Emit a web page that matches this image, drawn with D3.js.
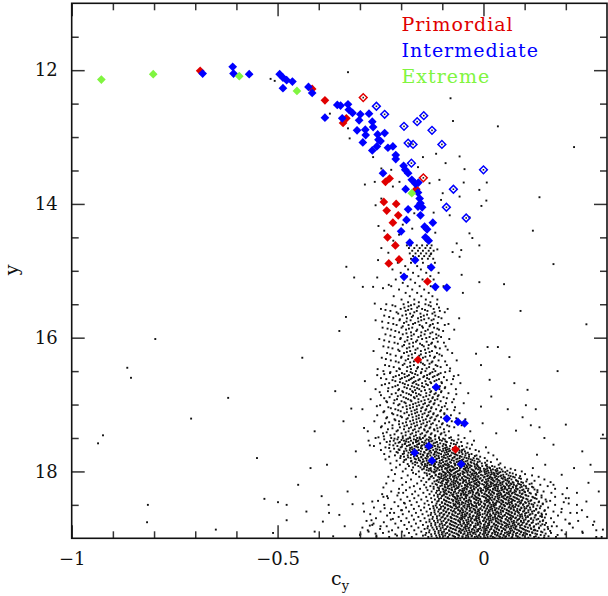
<!DOCTYPE html>
<html><head><meta charset="utf-8">
<script src="https://cdn.jsdelivr.net/npm/d3@7"></script>
<style>body{margin:0;background:#fff}svg{display:block}</style>
</head><body>
<svg id="chart" width="608" height="596"></svg>
<script>
// ---- axis definitions ----
const xDomain = [-1, 0.3];
const yDomain = [11, 19];
const xMajorTicks = [-1, -0.5, 0];
const xTickLabels = ["\u22121", "\u22120.5", "0"];
const xMinorTicks = [-0.9, -0.8, -0.7, -0.6, -0.4, -0.3, -0.2, -0.1, 0.1, 0.2];
const yMajorTicks = [12, 14, 16, 18];
const yTickLabels = ["12", "14", "16", "18"];
const yMinorTicks = [11.5, 12.5, 13, 13.5, 14.5, 15, 15.5, 16.5, 17, 17.5, 18.5];
const legendLabels = ["Primordial", "Intermediate", "Extreme"];

// ---- coloured populations [c_y, y] ----
const primordialFilled = [[-0.688,12.01],[-0.416,12.28],[-0.385,12.45],[-0.333,12.72],[-0.341,12.79],[-0.238,13.67],[-0.228,13.62],[-0.163,13.78],[-0.242,13.97],[-0.212,14.0],[-0.235,14.1],[-0.207,14.17],[-0.22,14.28],[-0.233,14.5],[-0.214,14.62],[-0.205,14.83],[-0.23,14.89],[-0.136,15.16],[-0.159,16.33],[-0.068,17.67]];
const primordialOpen = [[-0.292,12.41],[-0.146,13.61]];
const intermediateFilled = [[-0.682,12.05],[-0.609,11.95],[-0.607,12.05],[-0.569,12.06],[-0.495,12.06],[-0.487,12.11],[-0.478,12.15],[-0.464,12.17],[-0.487,12.27],[-0.425,12.25],[-0.416,12.34],[-0.385,12.71],[-0.355,12.52],[-0.347,12.53],[-0.329,12.51],[-0.327,12.59],[-0.318,12.64],[-0.343,12.72],[-0.299,12.66],[-0.278,12.65],[-0.302,12.75],[-0.27,12.77],[-0.268,12.85],[-0.307,12.9],[-0.287,12.89],[-0.286,12.97],[-0.257,12.96],[-0.24,12.94],[-0.293,13.08],[-0.255,13.04],[-0.25,13.06],[-0.259,13.14],[-0.27,13.2],[-0.232,13.16],[-0.22,13.14],[-0.213,13.27],[-0.213,13.33],[-0.194,13.43],[-0.19,13.49],[-0.183,13.54],[-0.244,13.54],[-0.174,13.64],[-0.165,13.7],[-0.158,13.68],[-0.189,13.78],[-0.159,13.83],[-0.155,13.92],[-0.153,13.99],[-0.159,14.04],[-0.149,14.05],[-0.183,14.08],[-0.153,14.17],[-0.187,14.24],[-0.123,14.28],[-0.143,14.34],[-0.137,14.38],[-0.2,14.41],[-0.141,14.5],[-0.133,14.55],[-0.179,14.58],[-0.166,14.84],[-0.127,14.95],[-0.193,15.09],[-0.117,15.24],[-0.089,15.25],[-0.115,16.74],[-0.089,17.21],[-0.062,17.26],[-0.046,17.28],[-0.133,17.62],[-0.167,17.72],[-0.125,17.84],[-0.054,17.89]];
const intermediateOpen = [[-0.26,12.54],[-0.24,12.66],[-0.193,12.84],[-0.161,12.77],[-0.145,12.68],[-0.125,12.9],[-0.183,13.09],[-0.171,13.11],[-0.101,13.11],[-0.175,13.39],[0.0,13.49],[-0.073,13.78],[-0.09,14.05],[-0.042,14.21]];
const extremeFilled = [[-0.928,12.14],[-0.802,12.06],[-0.593,12.09],[-0.453,12.31],[-0.174,13.84]];

// ---- background stars: rows [y, c_y values...] ----
const bgRows = [
[14.62,-.176,-.162,-.149,-.137,-.126],[14.66,-.181,-.168,-.155,-.141,-.129],[14.70,-.173,-.159,-.147,-.133,-.121],[14.74,-.179,-.165,-.152,-.139,-.127],[14.78,-.171,-.157,-.144,-.131],[14.82,-.176,-.162,-.149,-.135,-.122],
[14.88,-.208,-.176,-.147,-.118],[14.93,-.19,-.161,-.134],[14.98,-.221,-.183,-.152,-.126],[15.03,-.201,-.171,-.139,-.109],[15.08,-.186,-.158,-.129],[15.13,-.213,-.177,-.148,-.121],[15.18,-.196,-.166,-.137],[15.23,-.224,-.184,-.155,-.128,-.097],[15.28,-.205,-.173,-.144,-.116],[15.33,-.189,-.161,-.133],[15.38,-.218,-.179,-.151,-.124],[15.43,-.199,-.168,-.14,-.112],[15.47,-.183,-.157,-.129],
[15.50,-.236,-.194,-.168,-.141,-.113],[15.53,-.214,-.182,-.157,-.128],[15.57,-.249,-.201,-.175,-.149,-.121,-.087],[15.60,-.226,-.189,-.162,-.136,-.106],[15.64,-.207,-.178,-.153,-.124],[15.67,-.241,-.197,-.171,-.145,-.117],[15.71,-.219,-.186,-.159,-.133,-.102,-.059],[15.74,-.262,-.204,-.177,-.151,-.126],[15.78,-.231,-.193,-.166,-.139,-.111],[15.81,-.211,-.182,-.155,-.129,-.094],[15.85,-.245,-.199,-.173,-.147,-.12],[15.88,-.224,-.188,-.161,-.135,-.108,-.071],[15.92,-.205,-.176,-.151,-.124],[15.95,-.238,-.196,-.169,-.143,-.115],[15.99,-.216,-.184,-.158,-.131,-.103],[16.02,-.253,-.202,-.175,-.149,-.122,-.083],[16.06,-.229,-.191,-.164,-.138,-.111],[16.09,-.208,-.18,-.154,-.127],[16.13,-.243,-.197,-.171,-.145,-.118,-.092],[16.16,-.221,-.186,-.16,-.134,-.106],[16.20,-.267,-.204,-.178,-.152,-.125],[16.23,-.234,-.193,-.166,-.14,-.113,-.076],[16.27,-.213,-.182,-.156,-.13,-.101],[16.30,-.247,-.2,-.173,-.147,-.12],[16.34,-.225,-.189,-.163,-.136,-.109,-.065],[16.37,-.206,-.178,-.152,-.126],[16.41,-.239,-.196,-.169,-.143,-.116,-.089],[16.44,-.218,-.185,-.159,-.132,-.104],[16.47,-.257,-.203,-.176,-.149,-.121],
[16.50,-.243,-.211,-.186,-.164,-.141,-.117,-.082],[16.53,-.227,-.198,-.173,-.152,-.129,-.104],[16.56,-.258,-.205,-.181,-.16,-.137,-.112,-.061],[16.59,-.219,-.191,-.169,-.146,-.123,-.096],[16.62,-.236,-.202,-.177,-.155,-.132,-.108,-.074],[16.65,-.288,-.214,-.187,-.165,-.141,-.119],[16.68,-.229,-.196,-.172,-.149,-.127,-.101,-.056],[16.71,-.247,-.208,-.183,-.158,-.135,-.114],[16.74,-.221,-.192,-.168,-.144,-.122,-.093],[16.77,-.262,-.205,-.178,-.156,-.131,-.107,-.067],[16.80,-.232,-.197,-.173,-.151,-.127,-.102],[16.83,-.213,-.187,-.164,-.139,-.116,-.085,-.037],[16.86,-.249,-.201,-.176,-.153,-.131,-.109],[16.89,-.228,-.194,-.169,-.146,-.123,-.097],[16.92,-.274,-.21,-.183,-.158,-.134,-.112,-.072],[16.95,-.236,-.199,-.175,-.151,-.128,-.104],[16.98,-.218,-.189,-.165,-.142,-.119,-.091,-.048],[17.01,-.251,-.207,-.179,-.156,-.133,-.109],[17.04,-.231,-.196,-.171,-.148,-.126,-.101,-.069],[17.07,-.294,-.214,-.186,-.162,-.139,-.115,-.088],[17.10,-.241,-.201,-.175,-.152,-.129,-.105],[17.13,-.222,-.192,-.166,-.143,-.121,-.095,-.058],[17.16,-.258,-.209,-.181,-.157,-.134,-.111,-.079],[17.19,-.234,-.198,-.172,-.149,-.126,-.103],[17.22,-.216,-.187,-.163,-.14,-.117,-.093,-.044],[17.25,-.265,-.205,-.178,-.154,-.131,-.108,-.077],[17.28,-.239,-.196,-.169,-.146,-.123,-.099],[17.31,-.221,-.186,-.161,-.138,-.114,-.088,-.053],[17.34,-.249,-.203,-.176,-.152,-.129,-.105,-.071],[17.37,-.232,-.193,-.167,-.144,-.12,-.096],[17.40,-.281,-.211,-.182,-.158,-.135,-.111,-.084,-.032],[17.43,-.244,-.199,-.173,-.149,-.126,-.102],[17.46,-.226,-.189,-.164,-.141,-.117,-.092,-.061],[17.49,-.255,-.207,-.179,-.155,-.132,-.108,-.079],
[17.50,-.262,-.224,-.196,-.178,-.161,-.147,-.129,-.108,-.083,-.046],[17.52,-.241,-.209,-.187,-.169,-.152,-.138,-.117,-.094,-.061],[17.54,-.279,-.218,-.193,-.176,-.158,-.141,-.124,-.101,-.072,-.023],[17.56,-.235,-.203,-.182,-.164,-.149,-.132,-.113,-.089,-.054],[17.58,-.251,-.214,-.19,-.171,-.156,-.139,-.121,-.105,-.079,-.039],[17.60,-.228,-.197,-.178,-.161,-.144,-.128,-.111,-.092,-.067,-.028],[17.62,-.266,-.209,-.186,-.167,-.151,-.135,-.118,-.099,-.081,-.052],[17.64,-.238,-.201,-.174,-.159,-.141,-.124,-.107,-.089,-.07,-.041,.006],[17.66,-.217,-.189,-.168,-.149,-.133,-.116,-.098,-.083,-.061,-.033],[17.68,-.249,-.204,-.179,-.157,-.139,-.122,-.106,-.091,-.073,-.052,-.019],[17.70,-.226,-.193,-.171,-.152,-.131,-.115,-.101,-.084,-.066,-.045,-.011],[17.72,-.208,-.182,-.161,-.143,-.127,-.112,-.094,-.077,-.059,-.038,.012],[17.74,-.241,-.196,-.172,-.153,-.136,-.119,-.103,-.086,-.069,-.051,-.029],[17.76,-.215,-.184,-.163,-.146,-.129,-.114,-.096,-.079,-.063,-.044,-.017,.024],[17.78,-.229,-.193,-.169,-.151,-.135,-.118,-.101,-.087,-.07,-.053,-.035,-.008],[17.80,-.202,-.177,-.158,-.141,-.123,-.108,-.092,-.075,-.058,-.041,-.024,.003],[17.82,-.238,-.188,-.164,-.147,-.131,-.115,-.099,-.083,-.066,-.049,-.031,-.012,.033],[17.84,-.211,-.175,-.154,-.138,-.122,-.106,-.089,-.072,-.057,-.039,-.022,.009],[17.86,-.194,-.166,-.148,-.131,-.114,-.098,-.081,-.065,-.048,-.031,-.014,.018],[17.88,-.226,-.172,-.151,-.136,-.119,-.103,-.087,-.071,-.054,-.038,-.023,-.004,.041],
[17.90,-.203,-.166,-.149,-.131,-.127,-.109,-.091,-.084,-.063,-.052,-.036,-.021,.008,.037],[17.92,-.181,-.158,-.142,-.12,-.104,-.097,-.078,-.059,-.047,-.029,-.014,-.003,.021],[17.94,-.212,-.171,-.153,-.137,-.116,-.101,-.086,-.073,-.055,-.041,-.033,-.011,.014,.052],[17.96,-.189,-.145,-.132,-.112,-.093,-.089,-.069,-.048,-.037,-.019,.001,.009,.033,.066],[17.98,-.223,-.174,-.138,-.128,-.107,-.082,-.075,-.058,-.043,-.026,-.008,.018,.029,.077],[18.00,-.196,-.157,-.126,-.117,-.099,-.078,-.064,-.051,-.041,-.022,-.005,.007,.031,.047,.093],[18.02,-.171,-.143,-.119,-.094,-.083,-.069,-.046,-.039,-.018,-.011,.013,.024,.038,.064],[18.04,-.215,-.164,-.131,-.108,-.102,-.081,-.062,-.05,-.029,-.016,.004,.02,.035,.056,.101],[18.06,-.184,-.137,-.116,-.097,-.087,-.068,-.057,-.034,-.024,-.002,.011,.027,.043,.061,.118],[18.08,-.231,-.156,-.128,-.11,-.091,-.074,-.061,-.044,-.031,-.013,.003,.016,.036,.049,.072,.134],[18.10,-.199,-.146,-.121,-.103,-.082,-.071,-.052,-.038,-.019,-.007,.014,.022,.044,.063,.087],[18.12,-.176,-.133,-.107,-.093,-.079,-.058,-.049,-.026,-.015,.006,.019,.031,.053,.068,.106,.148],[18.14,-.219,-.151,-.114,-.098,-.085,-.066,-.047,-.035,-.021,-.004,.012,.025,.039,.058,.081,.124],[18.16,-.188,-.139,-.109,-.087,-.073,-.063,-.042,-.029,-.011,.003,.017,.034,.046,.071,.092,.163],[18.18,-.236,-.161,-.124,-.1,-.08,-.069,-.056,-.037,-.022,-.009,.01,.023,.041,.055,.066,.084,.117],[18.20,-.197,-.144,-.113,-.094,-.078,-.059,-.045,-.033,-.016,.001,.008,.028,.037,.057,.074,.091,.138],[18.22,-.169,-.129,-.105,-.086,-.072,-.053,-.04,-.024,-.014,.007,.019,.031,.049,.061,.079,.103,.156],[18.24,-.243,-.179,-.139,-.111,-.092,-.077,-.064,-.044,-.031,-.018,.002,.012,.027,.045,.053,.072,.089,.121],[18.26,-.205,-.154,-.121,-.099,-.083,-.067,-.051,-.041,-.023,-.006,.006,.023,.035,.052,.067,.083,.109,.174],[18.28,-.188,-.136,-.108,-.091,-.076,-.057,-.047,-.028,-.013,-.001,.016,.029,.044,.058,.076,.094,.131],[18.30,-.224,-.166,-.126,-.097,-.085,-.069,-.05,-.036,-.027,-.007,.005,.021,.036,.049,.065,.079,.099,.146],[18.32,-.195,-.146,-.115,-.095,-.079,-.061,-.049,-.032,-.016,-.004,.013,.025,.041,.056,.071,.088,.112,.165],[18.34,-.246,-.173,-.131,-.106,-.089,-.073,-.054,-.045,-.026,-.011,.002,.018,.033,.043,.062,.077,.093,.127,.192],[18.36,-.209,-.158,-.12,-.099,-.082,-.064,-.055,-.039,-.021,-.01,.009,.022,.038,.052,.066,.084,.104,.141],[18.38,-.185,-.139,-.111,-.092,-.071,-.063,-.043,-.029,-.019,.001,.014,.029,.045,.059,.073,.091,.119,.174],[18.40,-.232,-.168,-.127,-.103,-.087,-.068,-.057,-.042,-.024,-.013,.006,.016,.035,.049,.063,.08,.097,.125,.207],[18.42,-.201,-.151,-.118,-.096,-.077,-.066,-.047,-.034,-.018,-.008,.011,.026,.037,.055,.07,.086,.107,.151],[18.44,-.256,-.179,-.136,-.109,-.091,-.074,-.061,-.041,-.031,-.012,.003,.013,.032,.046,.061,.076,.092,.114,.162],[18.46,-.216,-.162,-.125,-.101,-.084,-.065,-.052,-.037,-.022,-.005,.008,.023,.039,.048,.067,.083,.101,.134,.195],[18.48,-.191,-.143,-.114,-.094,-.073,-.062,-.044,-.03,-.017,.001,.015,.028,.043,.058,.069,.089,.111,.144],[18.50,-.241,-.175,-.133,-.106,-.088,-.071,-.058,-.039,-.028,-.011,.004,.019,.03,.049,.064,.079,.096,.121,.174,.227],[18.52,-.207,-.157,-.122,-.098,-.081,-.067,-.049,-.035,-.023,-.004,.01,.024,.041,.052,.07,.085,.106,.139],[18.54,-.266,-.188,-.144,-.113,-.093,-.076,-.063,-.046,-.029,-.017,.001,.016,.027,.046,.061,.073,.092,.113,.157],[18.56,-.224,-.169,-.13,-.104,-.085,-.07,-.053,-.041,-.024,-.008,.007,.021,.037,.051,.066,.082,.1,.128,.19],[18.58,-.198,-.152,-.119,-.097,-.079,-.061,-.05,-.032,-.02,-.003,.013,.028,.042,.057,.074,.089,.109,.149,.239],[18.60,-.25,-.181,-.138,-.11,-.09,-.075,-.057,-.044,-.027,-.014,.004,.015,.034,.048,.063,.078,.096,.118,.17],[18.62,-.217,-.164,-.127,-.102,-.083,-.068,-.052,-.039,-.02,-.009,.01,.024,.036,.055,.069,.086,.104,.133,.211],[18.64,-.275,-.196,-.148,-.117,-.095,-.076,-.062,-.045,-.033,-.015,-.002,.016,.03,.043,.061,.076,.093,.114,.152],[18.66,-.234,-.174,-.134,-.107,-.087,-.071,-.054,-.042,-.024,-.011,.007,.019,.037,.051,.067,.083,.101,.126,.181],[18.68,-.206,-.158,-.123,-.099,-.08,-.063,-.05,-.033,-.018,-.003,.012,.028,.04,.057,.072,.089,.108,.142,.252],[18.70,-.261,-.187,-.143,-.113,-.092,-.077,-.058,-.046,-.028,-.013,.002,.017,.033,.045,.062,.077,.095,.116,.164],[18.72,-.225,-.169,-.131,-.105,-.085,-.067,-.055,-.037,-.022,-.01,.008,.023,.036,.054,.066,.084,.102,.129,.199],[18.74,-.284,-.2,-.153,-.12,-.097,-.079,-.061,-.049,-.031,-.016,-.001,.014,.03,.042,.059,.074,.091,.11,.144,.23],[18.76,-.242,-.181,-.139,-.111,-.089,-.073,-.057,-.04,-.027,-.009,.005,.02,.035,.05,.063,.08,.098,.12,.171],[18.78,-.214,-.164,-.127,-.101,-.082,-.066,-.049,-.036,-.019,-.006,.011,.026,.039,.056,.071,.086,.105,.133,.208],[18.80,-.27,-.192,-.147,-.117,-.094,-.077,-.061,-.044,-.031,-.014,.001,.014,.031,.046,.059,.076,.093,.112,.149,.266],[18.82,-.235,-.175,-.135,-.107,-.087,-.07,-.053,-.04,-.023,-.008,.007,.022,.035,.052,.067,.08,.1,.123,.178],[18.84,-.294,-.207,-.158,-.124,-.099,-.081,-.065,-.047,-.034,-.019,-.002,.011,.028,.043,.056,.073,.089,.108,.135,.217],[18.86,-.251,-.186,-.143,-.113,-.091,-.074,-.056,-.043,-.026,-.011,.004,.019,.032,.049,.064,.077,.096,.116,.157],[18.88,-.222,-.168,-.131,-.104,-.084,-.067,-.052,-.035,-.022,-.005,.008,.025,.038,.053,.07,.085,.103,.126,.19,.274],[18.90,-.279,-.198,-.151,-.118,-.096,-.078,-.06,-.046,-.029,-.016,.001,.014,.031,.044,.061,.074,.092,.111,.14],[18.92,-.244,-.181,-.139,-.109,-.088,-.071,-.055,-.038,-.025,-.008,.005,.022,.035,.052,.065,.082,.098,.119,.164,.241],[18.94,-.299,-.214,-.163,-.127,-.101,-.082,-.063,-.049,-.032,-.019,-.002,.011,.028,.041,.058,.071,.088,.106,.13,.199],[18.96,-.26,-.192,-.147,-.115,-.093,-.075,-.059,-.042,-.028,-.011,.002,.019,.032,.049,.062,.079,.095,.114,.148],[18.98,-.229,-.174,-.134,-.106,-.086,-.069,-.051,-.037,-.021,-.007,.01,.023,.04,.053,.07,.083,.101,.123,.176,.287]
];
// second pass of rows (in-between magnitudes) for the giant branch
const bgBandRows = [
[15.515,-.221,-.176,-.133],[15.55,-.192,-.161,-.108],[15.585,-.238,-.183,-.142],[15.62,-.211,-.168,-.119,-.094],[15.655,-.188,-.137],[15.69,-.229,-.174,-.152,-.109],[15.725,-.203,-.144,-.121],[15.76,-.246,-.187,-.158],[15.795,-.219,-.171,-.123,-.085],[15.83,-.196,-.149,-.131],[15.865,-.233,-.181,-.112],[15.90,-.214,-.163,-.141,-.098],[15.935,-.187,-.129],[15.97,-.226,-.175,-.152,-.109],[16.005,-.201,-.139,-.114],[16.04,-.241,-.185,-.161],[16.075,-.216,-.171,-.125,-.096],[16.11,-.193,-.149,-.133],[16.145,-.231,-.18,-.116],[16.18,-.207,-.165,-.142,-.087],[16.215,-.186,-.131],[16.25,-.226,-.174,-.152,-.107],[16.285,-.199,-.141,-.118],[16.32,-.237,-.183,-.159],[16.355,-.213,-.169,-.124,-.093],[16.39,-.192,-.147,-.131],[16.425,-.229,-.178,-.112],[16.46,-.205,-.161,-.138,-.081],
[16.515,-.226,-.177,-.151,-.124,-.093],[16.545,-.241,-.192,-.166,-.131,-.109],[16.575,-.213,-.185,-.144,-.119,-.072],[16.605,-.249,-.198,-.174,-.137],[16.635,-.221,-.181,-.158,-.114,-.089],[16.665,-.203,-.169,-.129,-.102],[16.695,-.239,-.191,-.163,-.139,-.078],[16.725,-.214,-.174,-.149,-.106],[16.755,-.231,-.186,-.161,-.119,-.094],[16.785,-.207,-.166,-.142,-.116],[16.815,-.252,-.195,-.171,-.129,-.103],[16.845,-.223,-.181,-.157,-.119,-.066],[16.875,-.208,-.162,-.139,-.111],[16.905,-.241,-.188,-.167,-.124,-.089],[16.935,-.216,-.177,-.143,-.118],[16.965,-.234,-.192,-.158,-.131,-.076],[16.995,-.204,-.171,-.146,-.121],[17.025,-.259,-.187,-.162,-.137,-.094],[17.055,-.225,-.178,-.151,-.127],[17.085,-.207,-.167,-.141,-.103,-.071],[17.115,-.243,-.186,-.161,-.133],[17.145,-.219,-.174,-.148,-.122,-.095],[17.175,-.201,-.163,-.137,-.114],[17.205,-.236,-.184,-.157,-.129,-.066],[17.235,-.214,-.171,-.146,-.119,-.092],[17.265,-.229,-.188,-.162,-.137],[17.295,-.205,-.175,-.151,-.127,-.101],[17.325,-.247,-.192,-.166,-.141,-.083],[17.355,-.221,-.181,-.156,-.131,-.112],[17.385,-.208,-.171,-.143,-.119],[17.415,-.235,-.189,-.164,-.138,-.095],[17.445,-.216,-.177,-.153,-.128,-.104],[17.475,-.242,-.196,-.169,-.143,-.118],
[17.51,-.216,-.183,-.155,-.128,-.098],[17.53,-.199,-.164,-.133,-.106,-.077],[17.55,-.227,-.188,-.161,-.127,-.092],[17.57,-.206,-.171,-.144,-.117,-.064],[17.59,-.191,-.157,-.133,-.097,-.072],[17.61,-.219,-.181,-.149,-.123,-.091],[17.63,-.198,-.163,-.138,-.111,-.059],[17.65,-.229,-.178,-.152,-.128,-.093,-.074],[17.67,-.206,-.173,-.137,-.112,-.087,-.048],[17.69,-.187,-.162,-.129,-.097,-.081,-.058],[17.71,-.211,-.176,-.144,-.118,-.089,-.053],[17.73,-.193,-.158,-.133,-.108,-.073,-.043],[17.75,-.176,-.147,-.121,-.091,-.066,-.035],[17.77,-.201,-.161,-.137,-.109,-.082,-.057,-.021],[17.79,-.183,-.151,-.126,-.096,-.071,-.046],[17.81,-.167,-.138,-.113,-.085,-.063,-.036,-.016],[17.83,-.192,-.157,-.129,-.101,-.077,-.052,-.027],[17.85,-.176,-.145,-.118,-.092,-.061,-.043,-.009],[17.87,-.161,-.134,-.107,-.079,-.058,-.029,.004],[17.89,-.184,-.142,-.118,-.094,-.069,-.045,-.016]
];
// second pass of rows for the dense turn-off / main-sequence core
const bgCoreRows = [
[17.91,-.137,-.121,-.098,-.087,-.069,-.041,-.032,-.015,.006],[17.93,-.144,-.118,-.107,-.083,-.076,-.054,-.039,-.021,.009,.027],[17.95,-.128,-.111,-.092,-.064,-.057,-.044,-.017,-.008,.016,.039],[17.97,-.149,-.119,-.101,-.081,-.072,-.046,-.029,-.013,.005,.023,.044],[17.99,-.133,-.114,-.088,-.079,-.061,-.037,-.024,.002,.011,.034,.058],[18.01,-.121,-.097,-.086,-.067,-.049,-.032,-.009,.003,.019,.041,.053],[18.03,-.138,-.106,-.091,-.072,-.056,-.026,-.021,.008,.027,.033,.071],[18.05,-.116,-.093,-.077,-.059,-.038,-.028,-.006,.017,.026,.048,.079],[18.07,-.125,-.102,-.081,-.071,-.047,-.019,-.012,.009,.031,.041,.066,.089],[18.09,-.107,-.095,-.066,-.052,-.041,-.023,.001,.019,.028,.052,.076],[18.11,-.131,-.098,-.087,-.064,-.034,-.027,-.009,.011,.033,.047,.059,.091],[18.13,-.112,-.089,-.072,-.056,-.043,-.018,-.002,.023,.036,.054,.079],[18.15,-.119,-.101,-.077,-.068,-.049,-.024,-.013,.008,.027,.049,.062,.084,.104],[18.17,-.104,-.091,-.062,-.05,-.033,-.017,.006,.019,.041,.061,.073,.096],[18.19,-.116,-.089,-.073,-.058,-.039,-.02,-.003,.018,.032,.046,.068,.087,.112],[18.21,-.101,-.082,-.066,-.044,-.029,-.011,.013,.025,.042,.064,.081,.098],[18.23,-.121,-.094,-.071,-.06,-.038,-.024,.004,.016,.035,.052,.071,.093,.118],[18.25,-.108,-.087,-.062,-.047,-.031,-.008,.009,.029,.043,.062,.079,.104],[18.27,-.097,-.078,-.069,-.041,-.022,-.013,.011,.024,.047,.057,.082,.097,.124],[18.29,-.113,-.093,-.059,-.052,-.033,-.006,.007,.033,.039,.066,.088,.108],[18.31,-.104,-.084,-.072,-.043,-.025,-.014,.014,.022,.05,.061,.075,.101,.131],[18.33,-.091,-.066,-.054,-.036,-.018,.003,.026,.037,.058,.069,.095,.115],[18.35,-.111,-.096,-.076,-.048,-.041,-.012,.007,.017,.043,.053,.081,.102,.128],[18.37,-.101,-.074,-.061,-.043,-.027,-.003,.011,.034,.048,.065,.089,.109],[18.39,-.087,-.069,-.052,-.034,-.016,.005,.021,.039,.057,.076,.096,.121,.141],[18.41,-.108,-.083,-.063,-.047,-.022,-.009,.016,.027,.052,.067,.082,.104,.129],[18.43,-.095,-.073,-.056,-.036,-.017,.007,.02,.043,.061,.072,.094,.116],[18.45,-.112,-.089,-.067,-.043,-.031,-.006,.011,.035,.047,.069,.087,.109,.135],[18.47,-.101,-.08,-.059,-.049,-.021,-.013,.015,.031,.054,.062,.091,.103,.124],[18.49,-.093,-.068,-.053,-.035,-.008,.004,.024,.044,.058,.078,.097,.117,.144],[18.51,-.116,-.086,-.072,-.046,-.026,-.018,.012,.026,.051,.072,.085,.109,.131],[18.53,-.103,-.079,-.059,-.039,-.017,.002,.019,.039,.063,.077,.099,.121],[18.55,-.121,-.094,-.066,-.053,-.033,-.007,.009,.032,.045,.067,.092,.104,.137],[18.57,-.108,-.087,-.061,-.041,-.022,-.013,.017,.029,.056,.073,.088,.114,.128],[18.59,-.097,-.072,-.056,-.034,-.011,.005,.022,.047,.061,.082,.099,.123,.148],[18.61,-.119,-.091,-.068,-.049,-.029,-.019,.011,.031,.042,.068,.084,.109,.134],[18.63,-.106,-.084,-.058,-.04,-.014,.003,.024,.037,.059,.076,.101,.119,.141],[18.65,-.128,-.097,-.075,-.051,-.034,-.008,.009,.028,.052,.064,.089,.112,.127],[18.67,-.113,-.088,-.066,-.045,-.026,-.016,.016,.036,.047,.071,.094,.107,.138],[18.69,-.102,-.079,-.054,-.037,-.011,.004,.023,.043,.066,.079,.103,.124,.149],[18.71,-.124,-.094,-.071,-.052,-.03,-.018,.012,.029,.054,.068,.087,.115,.133],[18.73,-.111,-.085,-.061,-.042,-.021,.001,.018,.041,.059,.082,.098,.121,.145],[18.75,-.131,-.102,-.077,-.058,-.036,-.009,.006,.031,.044,.069,.091,.108,.137],[18.77,-.117,-.091,-.069,-.047,-.027,-.014,.014,.036,.052,.074,.095,.117,.152],[18.79,-.106,-.081,-.056,-.039,-.012,.003,.025,.044,.063,.084,.104,.128,.143],[18.81,-.127,-.099,-.073,-.053,-.032,-.019,.011,.029,.055,.071,.089,.113,.139],[18.83,-.114,-.088,-.064,-.044,-.023,.002,.019,.042,.061,.078,.102,.122,.156],[18.85,-.136,-.104,-.079,-.059,-.037,-.008,.007,.033,.048,.067,.093,.115,.135],[18.87,-.121,-.095,-.069,-.049,-.028,-.015,.016,.037,.053,.081,.099,.124,.148],[18.89,-.109,-.083,-.058,-.041,-.013,.004,.026,.045,.066,.087,.107,.131,.162],[18.91,-.132,-.101,-.076,-.055,-.033,-.021,.012,.028,.057,.073,.091,.118,.143],[18.93,-.118,-.092,-.066,-.046,-.024,.001,.021,.043,.062,.079,.104,.126,.151],[18.95,-.141,-.107,-.083,-.061,-.038,-.01,.008,.034,.049,.071,.096,.113,.139],[18.97,-.126,-.098,-.072,-.051,-.029,-.016,.017,.038,.055,.083,.101,.127,.158],[18.99,-.113,-.087,-.061,-.043,-.014,.004,.027,.046,.068,.088,.109,.134,.147]
];
// ---- sparse field stars [c_y, y] ----
const bgSparse = [[-.517,12.13],[-.507,12.16],[-.329,12.03],[-.373,12.65],[-.329,12.87],[-.325,13.02],[-.268,13.3],[-.248,13.47],[-.224,13.49],[-.08,12.42],[-.074,12.76],[.035,12.84],[.22,13.15],[-.058,13.29],[-.046,13.48],[-.048,13.68],[-.01,13.79],[.008,13.68],[.136,13.9],[-.092,13.39],[-.115,13.25],[-.147,13.3],[-.159,13.45],[-.131,13.69],[-.107,13.64],[-.099,13.84],[-.058,13.89],[-.288,13.71],[-.264,13.67],[-.248,13.92],[-.22,13.74],[-.204,13.67],
[-.103,13.94],[-.082,14.17],[-.065,14.59],[-.075,14.72],[-.034,14.2],[-.005,14.03],[.007,13.95],[-.034,14.44],[-.058,14.79],[-.01,14.62],[-.053,15.06],[-.248,14.66],[-.256,14.84],[-.333,14.94],[-.314,15.1],[-.293,15.24],[-.268,15.24],[-.258,15.1],[-.244,15.26],[-.23,15.21],[-.334,15.69],[-.264,15.49],
[-.262,14.02],[-.255,14.33],[-.241,14.4],[-.196,14.31],[-.173,14.37],[-.168,14.14],[-.205,14.46],[-.121,14.13],[-.117,14.43],[-.112,14.68],[-.186,14.62],[-.231,14.73],[-.219,14.55],[-.128,14.75],
[-.05,15.33],[-.01,15.17],[-.027,14.51],[-.054,14.69],
[.148,17.5],[.103,17.01],[.127,17.07],[.035,16.14],[.063,16.29],[.075,16.68],[.107,16.78],[.059,17.07],[.095,17.19],[.115,17.31],[.136,17.34],[.079,17.39],[.01,16.14],[-.018,16.24],[-.006,16.41],[.015,16.63],[.019,16.88],[-.006,17.03],[-.002,17.28],[.031,17.43],
[-.321,17.06],[-.276,17.61],[-.31,18.08],[-.292,18.48],[-.276,18.81],
[-.532,18.41],[-.499,18.46],[-.478,18.5],[-.478,18.73],[-.511,18.92],[-.393,18.37],[-.376,18.5],[-.375,18.62],[-.318,18.49],[-.337,18.82],[-.365,18.97],[-.65,18.87],[-.815,18.5],[-.817,18.76],[-.272,18.73],[-.267,18.78],[-.243,18.38],[-.234,18.37],[-.206,18.32],[-.281,18.88],[-.262,18.93],[-.227,18.62],[-.193,18.47],
[.227,18.32],[.227,18.62],[.255,18.17],[.269,18.75],[.274,18.98],[.203,18.25],[.189,18.61],[.207,18.48],[.153,18.45],[.142,18.65],[.166,18.82],[.122,18.88],
[-.865,16.45],[-.856,16.6],[-.797,16.02],[-.936,17.58],[-.924,17.46],[-.71,17.21],[-.62,16.9],[-.55,17.8],[-.44,16.3],[-.41,17.4],[-.36,16.8],[-.35,15.9],[-.38,17.9],
[.26,17.9],[.24,17.7],[.2,17.3],[.18,16.5],[.25,15.8],[.09,15.6],[.05,15.2],[.17,14.9],[.12,14.4],
[-.43,18.6],[-.41,18.9],[-.39,18.75],[-.35,18.65],[-.33,18.3],[-.3,18.95],[-.29,18.6],[-.27,18.45],[-.26,18.98],[-.25,18.82],[-.24,18.55],[-.23,18.9],[-.22,18.71],[-.21,18.96],[-.2,18.58],[-.45,18.2],[-.42,17.95],[-.31,17.7],[-.29,17.35],[-.34,17.25],
[.17,18.2],[.19,18.05],[.22,17.95],[.25,18.45],[.28,18.3],[.29,18.87],[.24,18.9],[.21,18.78],[.18,18.95],[.2,18.4],[.15,17.9],[.13,17.75],[.17,17.6],[.29,17.45],[.12,17.95]];

// ---- colours ----
const colRed = "#e00000", colBlue = "#0000ff", colGreen = "#80f540";

const svg = d3.select("#chart");
const W = 608, H = 596;
const plot = {left: 71.7, right: 607, top: 3.3, bottom: 538.3};
const x = d3.scaleLinear().domain(xDomain).range([plot.left, plot.right]);
const y = d3.scaleLinear().domain(yDomain).range([plot.top, plot.bottom]);
const FONT = "'DejaVu Serif', serif";

svg.append("rect").attr("width", W).attr("height", H).attr("fill", "#fff");
svg.append("defs").append("clipPath").attr("id", "clip").append("rect")
  .attr("x", plot.left).attr("y", plot.top).attr("width", plot.right - plot.left).attr("height", plot.bottom - plot.top);

const pg = svg.append("g").attr("clip-path", "url(#clip)");

// background stars
const bg = [];
[bgRows, bgBandRows, bgCoreRows].forEach(rows => rows.forEach(r => {
  for (let i = 1; i < r.length; i++) bg.push([r[i], r[0]]);
}));
bgSparse.forEach(p => bg.push(p));
const ds = 1.9;
pg.append("g").selectAll("rect").data(bg).join("rect")
  .attr("x", d => x(d[0]) - ds / 2).attr("y", d => y(d[1]) - ds / 2)
  .attr("width", ds).attr("height", ds).attr("fill", "#111");

const diamond = d3.symbol().type(d3.symbolSquare);
function filled(data, color) {
  pg.append("g").selectAll("path").data(data).join("path")
    .attr("d", diamond.size(38)())
    .attr("transform", d => `translate(${x(d[0])},${y(d[1])}) rotate(45)`)
    .attr("fill", color);
}
function open(data, color) {
  const g = pg.append("g");
  g.selectAll("path").data(data).join("path")
    .attr("d", diamond.size(30)())
    .attr("transform", d => `translate(${x(d[0])},${y(d[1])}) rotate(45)`)
    .attr("fill", "none").attr("stroke", color).attr("stroke-width", 1.5);
  g.selectAll("rect").data(data).join("rect")
    .attr("x", d => x(d[0]) - 0.8).attr("y", d => y(d[1]) - 0.8)
    .attr("width", 1.6).attr("height", 1.6).attr("fill", "#222");
}
open(primordialOpen, colRed);
open(intermediateOpen, colBlue);
filled(primordialFilled, colRed);
filled(intermediateFilled, colBlue);
filled(extremeFilled, colGreen);

// axes
const tickCol = "#333";
function styleAxis(g) {
  g.select(".domain").remove();
  g.selectAll(".tick line").attr("stroke", tickCol).attr("stroke-width", 1.5);
  g.selectAll(".tick text").attr("font-family", FONT).attr("font-size", 18).attr("fill", "#111");
}
svg.append("g").attr("transform", `translate(0,${plot.bottom})`)
  .call(d3.axisBottom(x).tickValues(xMajorTicks).tickSize(-13).tickPadding(14)
    .tickFormat((d, i) => xTickLabels[i])).call(styleAxis);
svg.append("g").attr("transform", `translate(0,${plot.bottom})`)
  .call(d3.axisBottom(x).tickValues(xMinorTicks).tickSize(-7).tickFormat("")).call(styleAxis);
svg.append("g").attr("transform", `translate(0,${plot.top})`)
  .call(d3.axisTop(x).tickValues(xMajorTicks).tickSize(-13).tickFormat("")).call(styleAxis);
svg.append("g").attr("transform", `translate(0,${plot.top})`)
  .call(d3.axisTop(x).tickValues(xMinorTicks).tickSize(-7).tickFormat("")).call(styleAxis);
svg.append("g").attr("transform", `translate(${plot.left},0)`)
  .call(d3.axisLeft(y).tickValues(yMajorTicks).tickSize(-13).tickPadding(14)
    .tickFormat((d, i) => yTickLabels[i])).call(styleAxis);
svg.append("g").attr("transform", `translate(${plot.left},0)`)
  .call(d3.axisLeft(y).tickValues(yMinorTicks).tickSize(-7).tickFormat("")).call(styleAxis);
svg.append("g").attr("transform", `translate(${plot.right},0)`)
  .call(d3.axisRight(y).tickValues(yMajorTicks).tickSize(-13).tickFormat("")).call(styleAxis);
svg.append("g").attr("transform", `translate(${plot.right},0)`)
  .call(d3.axisRight(y).tickValues(yMinorTicks).tickSize(-7).tickFormat("")).call(styleAxis);

// frame
svg.append("rect").attr("x", plot.left).attr("y", plot.top)
  .attr("width", plot.right - plot.left).attr("height", plot.bottom - plot.top)
  .attr("fill", "none").attr("stroke", "#111").attr("stroke-width", 1.6);

// axis titles
const xt = svg.append("text").attr("x", 331).attr("y", 585)
  .attr("font-family", FONT).attr("font-size", 19).attr("fill", "#111");
xt.append("tspan").text("c");
xt.append("tspan").attr("dy", 5).attr("font-size", 13).text("y");
svg.append("text").attr("transform", "translate(18,270) rotate(-90)")
  .attr("text-anchor", "middle").attr("font-family", FONT).attr("font-size", 19)
  .attr("fill", "#111").text("y");

// legend
const legCols = [colRed, colBlue, colGreen];
svg.append("g").selectAll("text").data(legendLabels).join("text")
  .attr("x", 401.5).attr("y", (d, i) => 31 + i * 26.2)
  .attr("font-family", FONT).attr("font-size", 19).attr("letter-spacing", 1)
  .attr("fill", (d, i) => legCols[i]).text(d => d);
</script>
</body></html>
